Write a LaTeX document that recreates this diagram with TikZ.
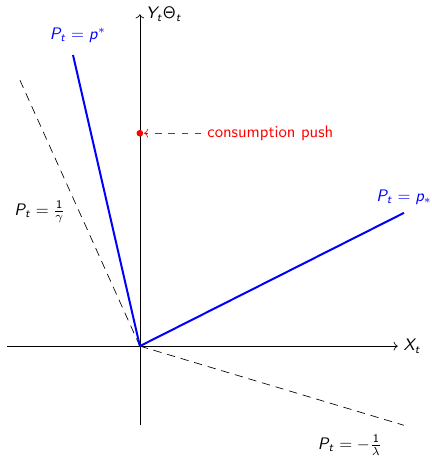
\documentclass[tikz,border=0pt]{standalone}
\usepackage{amsmath}
\renewcommand{\familydefault}{\sfdefault}
\DeclareMathAlphabet{\mathsfit}{OT1}{cmss}{m}{sl}
\usetikzlibrary{positioning}
\usetikzlibrary{arrows.meta}

\begin{document}
\begin{tikzpicture}[scale=1.0]
    \useasboundingbox (-2.95,-2.36) rectangle (6.16,7.30);
    % Origin and end points
    \coordinate (O) at (0,0);
    \coordinate (xl) at (-2.8,0);
    \coordinate (xr) at (5.44,0);
    \coordinate (yb) at (0,-1.67);
    \coordinate (yt) at (0,7.0);
    \coordinate (pup) at (-1.41,6.14);
    \coordinate (plo) at (5.57,2.81);
    \coordinate (gam) at (-2.53,5.61);
    \coordinate (lam) at (5.57,-1.67);

    % Axes
    \draw[->] (xl) -- (xr) node[right] (xlab) {$\mathsfit{X_t}$};
    \draw[->] (yb) -- (yt) node[right] (ylab) {$\mathsfit{Y_t}\mathsf{\Theta}_{\mathsfit{t}}$};

    % Dashed lines
    \draw[dash pattern=on 5pt off 3.5pt] (O) -- (gam);
    \draw[dash pattern=on 5pt off 3.5pt] (O) -- (lam);

    % Blue lines
    \draw[blue, very thick] (O) -- (pup);
    \draw[blue, very thick] (O) -- (plo);

    % Labels
    \node[blue] (lup) at (-1.31,6.56) {$\mathsfit{P_t} = \mathsfit{p}^*$};
    \node[blue] (llo) at (5.57,3.14) {$\mathsfit{P_t} = \mathsfit{p}_*$};
    \node (lgam) at (-2.11,2.83) {$\mathsfit{P_t} = \frac{\mathsf{1}}{\gamma}$};
    \node (llam) at (4.43,-2.09) {$\mathsfit{P_t} = -\frac{\mathsf{1}}{\lambda}$};

    % Consumption push
    \fill[red] (0,4.49) circle (2pt) coordinate (dot);
    \node[red, anchor=west] (push) at (1.3,4.49) {consumption push};
    \draw[red, dash pattern=on 4pt off 4pt, ->] (push.west) -- ([xshift=2.5pt]dot);
\end{tikzpicture}
\end{document}
